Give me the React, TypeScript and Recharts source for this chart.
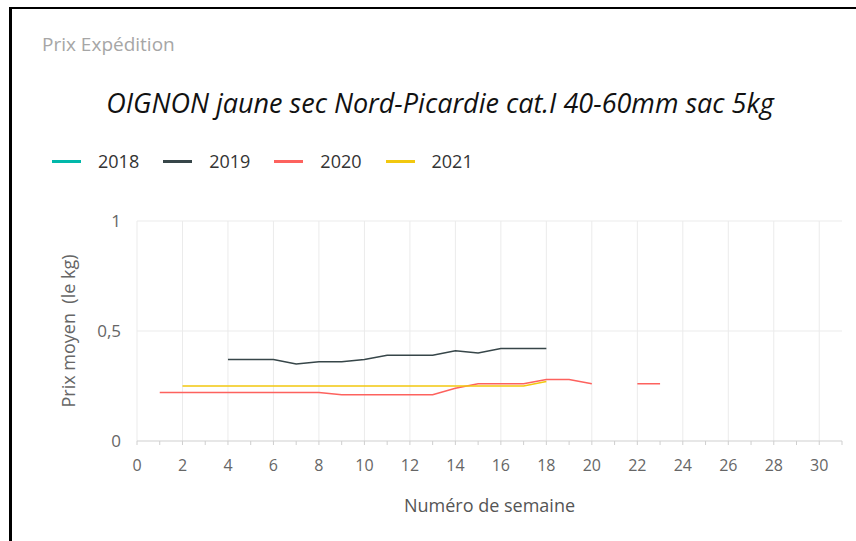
import { LineChart, Line, XAxis, YAxis, CartesianGrid, Label } from "recharts";

const weeks = [1, 2, 3, 4, 5, 6, 7, 8, 9, 10, 11, 12, 13, 14, 15, 16, 17, 18, 19, 20, 21, 22, 23];
const y2018: (number | null)[] = weeks.map(() => null);
const y2019 = [null, null, null, 0.37, 0.37, 0.37, 0.35, 0.36, 0.36, 0.37, 0.39, 0.39, 0.39, 0.41, 0.4, 0.42, 0.42, 0.42, null, null, null, null, null];
const y2020 = [0.22, 0.22, 0.22, 0.22, 0.22, 0.22, 0.22, 0.22, 0.21, 0.21, 0.21, 0.21, 0.21, 0.24, 0.26, 0.26, 0.26, 0.28, 0.28, 0.26, null, 0.26, 0.26];
const y2021 = [null, 0.25, 0.25, 0.25, 0.25, 0.25, 0.25, 0.25, 0.25, 0.25, 0.25, 0.25, 0.25, 0.25, 0.25, 0.25, 0.25, 0.27, null, null, null, null, null];

const xTicks = Array.from({ length: 32 }, (_, i) => i);
const yTicks = [0, 0.5, 1];

const series = [
  { key: "2018", values: y2018, color: "#01B8AA" },
  { key: "2019", values: y2019, color: "#374649" },
  { key: "2020", values: y2020, color: "#FD625E" },
  { key: "2021", values: y2021, color: "#F2C80F" },
];

const data = weeks.map((w, i) => {
  const row: any = { week: w };
  series.forEach((s) => (row[s.key] = s.values[i]));
  return row;
});

const FONT = "'Segoe UI', 'Open Sans', sans-serif";

function YLabel({ viewBox }: any) {
  const x = viewBox.x - 9;
  const y = viewBox.y + viewBox.height / 2;
  return (
    <text
      x={x}
      y={y}
      transform={`rotate(-90 ${x} ${y})`}
      textAnchor="middle"
      dominantBaseline="central"
      fill="#666"
      fontSize={18}
      fontFamily={FONT}
      style={{ whiteSpace: "pre" }}
    >
      Prix moyen  (le kg)
    </text>
  );
}

export default function App() {
  return (
    <div style={{ position: "absolute", left: 0, top: 0, width: 856, height: 541, background: "#fff", overflow: "hidden", fontFamily: FONT }}>
      <div style={{ position: "absolute", left: 9, top: 7, right: 0, bottom: 0, borderTop: "2px solid #000", borderLeft: "3px solid #000" }} />
      <div style={{ position: "absolute", left: 42, top: 31, fontSize: 19, color: "#a6a6a6" }}>Prix Expédition</div>
      <div style={{ position: "absolute", left: 0, width: 880, top: 84, textAlign: "center", fontSize: 27, fontStyle: "italic", color: "#111" }}>
        OIGNON jaune sec Nord-Picardie cat.I 40-60mm sac 5kg
      </div>
      <div style={{ position: "absolute", left: 52, top: 149, display: "flex", alignItems: "center", fontSize: 18, color: "#333" }}>
        {series.map((s) => (
          <div key={s.key} style={{ display: "flex", alignItems: "center", marginRight: 24 }}>
            <span style={{ display: "inline-block", width: 29, height: 3, background: s.color, marginRight: 17 }} />
            <span>{s.key}</span>
          </div>
        ))}
      </div>
      <LineChart width={856} height={541} data={data} margin={{ top: 221, right: 14, left: 77, bottom: 0 }} style={{ position: "absolute", left: 0, top: 0 }}>
        <CartesianGrid
          stroke="#ebebeb"
          horizontalValues={[0.5, 1]}
          verticalCoordinatesGenerator={({ offset }: any) =>
            xTicks.filter((t) => t % 2 === 0 && t <= 30).map((t) => offset.left + (offset.width * t) / 31)
          }
        />
        <XAxis
          dataKey="week"
          type="number"
          domain={[0, 31]}
          ticks={xTicks}
          interval={0}
          tickFormatter={(v: number) => (v % 2 === 0 && v <= 30 ? String(v) : "")}
          height={100}
          stroke="#cfcfcf"
          tickSize={4}
          tickMargin={15}
          tick={{ fill: "#666", fontSize: 16, fontFamily: FONT }}
        >
          <Label value="Numéro de semaine" position="insideBottom" offset={29} fill="#555" fontSize={18} fontFamily={FONT} />
        </XAxis>
        <YAxis
          type="number"
          domain={[0, 1]}
          ticks={yTicks}
          width={60}
          axisLine={false}
          tickLine={false}
          tickSize={0}
          tickMargin={16}
          tickFormatter={(v: number) => String(v).replace(".", ",")}
          tick={{ fill: "#666", fontSize: 17, fontFamily: FONT }}
        >
          <Label content={<YLabel />} />
        </YAxis>
        {series.map((s) => (
          <Line
            key={s.key}
            dataKey={s.key}
            stroke={s.color}
            strokeWidth={1.5}
            dot={false}
            type="linear"
            connectNulls={false}
            isAnimationActive={false}
          />
        ))}
      </LineChart>
    </div>
  );
}
